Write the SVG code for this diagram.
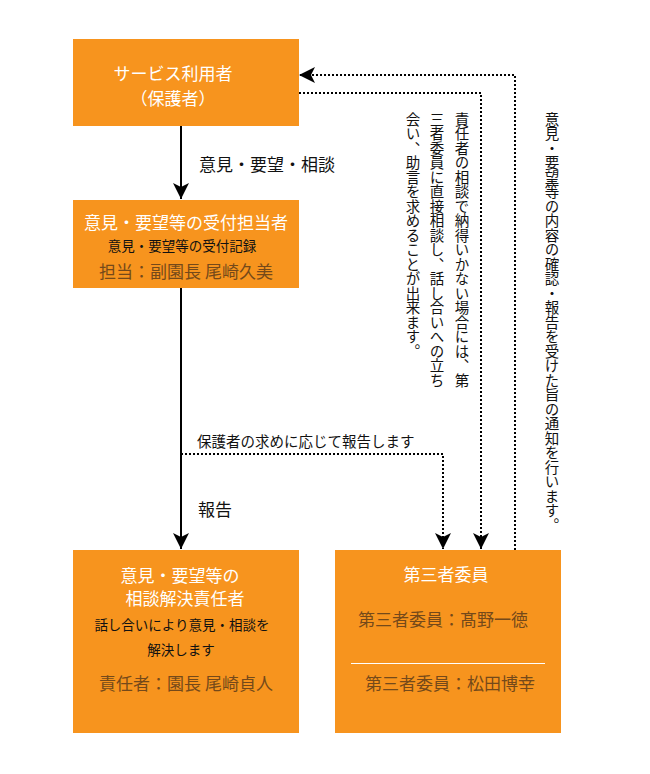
<svg xmlns="http://www.w3.org/2000/svg" width="650" height="774" viewBox="0 0 650 774">
<style>
text{font-family:"Noto Sans CJK JP","Noto Sans CJK SC",sans-serif;}
.box{fill:#F7941E;}
.t{fill:#ffffff;font-size:17px;text-anchor:middle;}
.s{fill:#111111;font-size:13.5px;text-anchor:middle;}
.n{fill:#74491A;font-size:17px;text-anchor:middle;}
.lbl{fill:#111111;font-size:17px;}
.sl{fill:#111111;font-size:14.5px;}
.v{fill:#111111;font-size:14.5px;writing-mode:vertical-rl;glyph-orientation-vertical:0;}
.solid{stroke:#000;stroke-width:2;fill:none;}
.dot{stroke:#000;stroke-width:2;fill:none;stroke-dasharray:2 2;}
</style>
<defs>
<marker id="ah" viewBox="0 0 16 16" refX="16" refY="8" markerWidth="16" markerHeight="16" markerUnits="userSpaceOnUse" orient="auto">
<path d="M0,0 L16,8 L0,16 L4,8 Z" fill="#000"/>
</marker>
</defs>
<rect x="0" y="0" width="650" height="774" fill="#ffffff"/>
<g id="connectors">
<line class="solid" x1="181" y1="126" x2="181" y2="199" marker-end="url(#ah)"/>
<line class="solid" x1="181" y1="288" x2="181" y2="549" marker-end="url(#ah)"/>
<polyline class="dot" points="181,454 443,454 443,549" marker-end="url(#ah)"/>
<polyline class="dot" points="299,93 481,93 481,549" marker-end="url(#ah)"/>
<polyline class="dot" points="515,550 515,75 299,75" marker-end="url(#ah)"/>
<text class="lbl" x="199" y="171">意見・要望・相談</text>
<text class="sl" x="197" y="447">保護者の求めに応じて報告します</text>
<text class="lbl" x="198" y="516">報告</text>
<text class="v" x="462" y="112">責任者の相談で納得いかない場合には、第</text>
<text class="v" x="437" y="112">三者委員に直接相談し、話し合いへの立ち</text>
<text class="v" x="413" y="112">会い、助言を求めることが出来ます。</text>
<text class="v" x="552" y="112">意見・要望等の内容の確認・報告を受けた旨の通知を行います。</text>
</g>
<g id="user">
<rect class="box" x="73" y="39" width="226" height="87"/>
<text class="t" x="173" y="80">サービス利用者</text>
<text class="t" x="173" y="105">（保護者）</text>
</g>
<g id="reception">
<rect class="box" x="73" y="200" width="226" height="88"/>
<text class="t" x="186" y="229">意見・要望等の受付担当者</text>
<text class="s" x="182" y="251">意見・要望等の受付記録</text>
<text class="n" x="186" y="278">担当：副園長 尾崎久美</text>
</g>
<g id="responsible">
<rect class="box" x="73" y="550" width="226" height="183"/>
<text class="t" x="180" y="582">意見・要望等の</text>
<text class="t" x="185" y="605">相談解決責任者</text>
<text class="s" x="182" y="630">話し合いにより意見・相談を</text>
<text class="s" x="181" y="655">解決します</text>
<text class="n" x="186" y="690">責任者：園長 尾崎貞人</text>
</g>
<g id="thirdparty">
<rect class="box" x="335" y="550" width="226" height="183"/>
<text class="t" x="446" y="581">第三者委員</text>
<text class="n" x="443" y="626">第三者委員：髙野一徳</text>
<line x1="351" y1="663.5" x2="545" y2="663.5" stroke="#ffffff" stroke-width="1"/>
<text class="n" x="450" y="690">第三者委員：松田博幸</text>
</g>
</svg>
